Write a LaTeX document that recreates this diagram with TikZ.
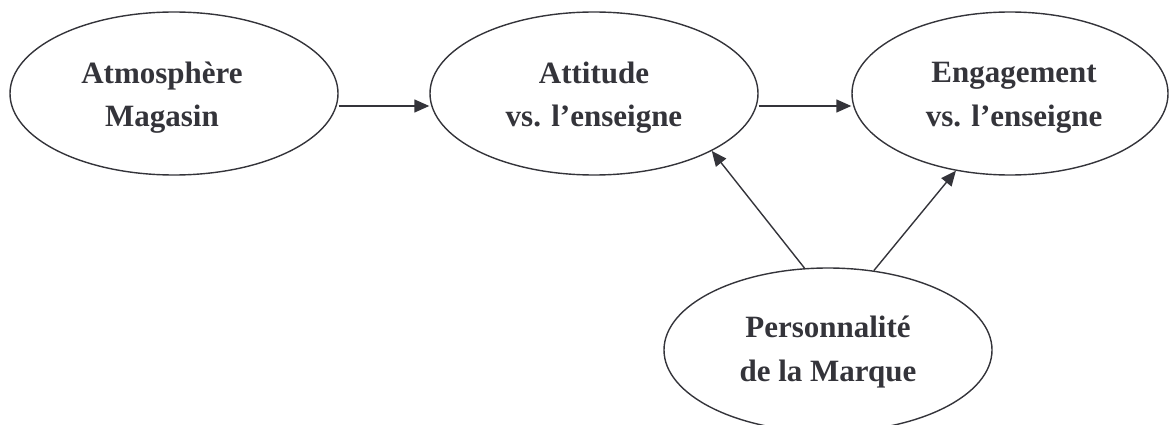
\documentclass[tikz,border=0pt]{standalone}
\usepackage{fontspec}
\setmainfont{Liberation Serif}
\usetikzlibrary{arrows.meta,shapes.geometric}
\definecolor{ink}{RGB}{52,52,58}
\begin{document}
\begin{tikzpicture}[x=1pt,y=-1pt,
  ell/.style={draw=ink,line width=1.4pt,ellipse,inner sep=0pt,minimum width=328pt,minimum height=163pt},
  lbl/.style={text=ink,align=center,inner sep=0pt,font=\fontsize{31}{43.5}\selectfont\bfseries},
  arr/.style={draw=ink,line width=1.4pt,-{Triangle[length=15pt,width=13pt]}}]
\useasboundingbox (0,0) rectangle (1169,425);
\node[ell] (atm) at (174,93.5) {};
\node[ell] (att) at (594,93.5) {};
\node[ell,minimum width=316pt] (eng) at (1010,93.5) {};
\node[ell,minimum height=164pt] (per) at (828,350) {};
\node[lbl] (tatm) at (162,97.8) {Atmosphère\\Magasin};
\node[lbl] (tatt) at (594,97.8) {Attitude\\vs. l’enseigne};
\node[lbl] (teng) at (1014,97.8) {Engagement\\vs. l’enseigne};
\node[lbl] (tper) at (828,351.8) {Personnalité\\de la Marque};
\draw[arr] ([yshift=-12.5pt]atm.east) -- ([yshift=-12.5pt]att.west);
\draw[arr] ([yshift=-12.5pt]att.east) -- ([yshift=-12.5pt]eng.west);
\draw[arr] (per.106) -- (att.-26);
\draw[arr] (per.60) -- (eng.-125);
\end{tikzpicture}
\end{document}
